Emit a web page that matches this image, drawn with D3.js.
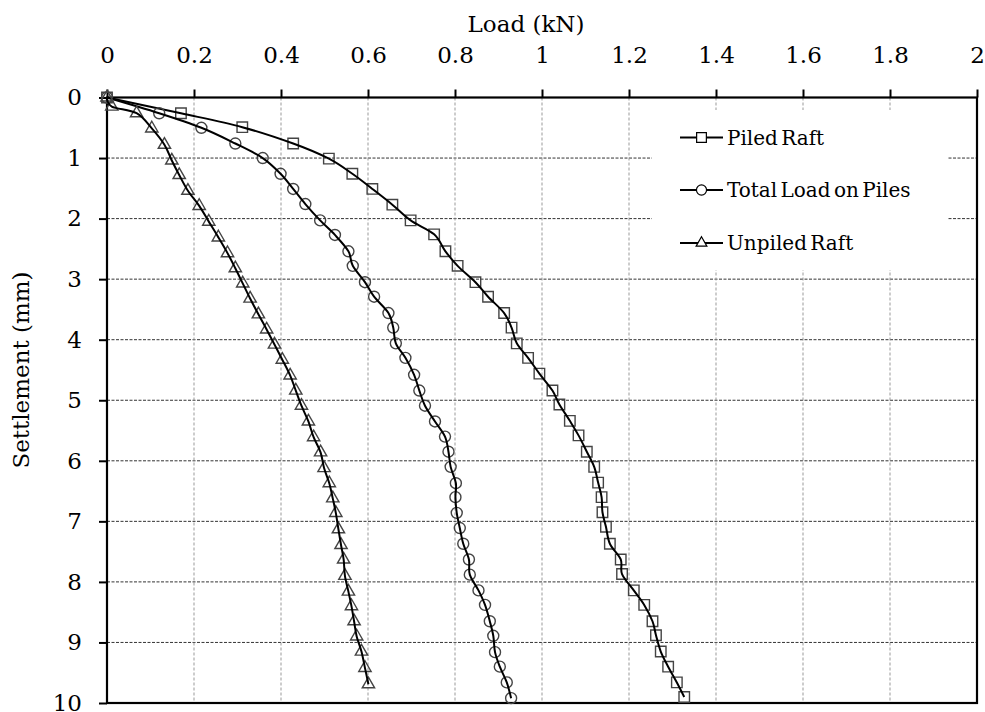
<!DOCTYPE html>
<meta charset="utf-8">
<script src="https://d3js.org/d3.v7.min.js"></script>
<style>
body { margin: 0; background: #fff; }
text { font-family: "DejaVu Serif", serif; fill: #000; }
.grid-h { stroke: #333; stroke-width: 1; stroke-dasharray: 3,1.5; }
.grid-v { stroke: #999; stroke-width: 1; stroke-dasharray: 3,2; }
.line { fill: none; stroke: #000; stroke-width: 2px; }
.mark { fill: none; stroke: #444; stroke-width: 1.4px; }
</style>
<body>
<div id="chart"></div>
<script>
// settlement (mm) and load (kN)
var piledSettle = [0, 0.26, 0.49, 0.76, 1.01, 1.26, 1.51, 1.77, 2.03, 2.26, 2.54, 2.78, 3.05, 3.29, 3.56, 3.80, 4.06, 4.30, 4.56, 4.84,
    5.07, 5.34, 5.58, 5.85, 6.10, 6.36, 6.60, 6.85, 7.09, 7.37, 7.63, 7.87, 8.14, 8.38, 8.65, 8.88, 9.15, 9.40, 9.66, 9.90];
var piledLoad = [0, 0.170, 0.311, 0.428, 0.510, 0.564, 0.610, 0.656, 0.698, 0.752, 0.778, 0.806, 0.847, 0.876, 0.913, 0.930, 0.942, 0.968, 0.994, 1.024,
    1.040, 1.064, 1.084, 1.103, 1.120, 1.129, 1.137, 1.139, 1.147, 1.156, 1.181, 1.184, 1.211, 1.235, 1.254, 1.262, 1.273, 1.290, 1.310, 1.327];

var pilesSettle = [0, 0.26, 0.50, 0.76, 1.00, 1.26, 1.51, 1.76, 2.03, 2.27, 2.54, 2.78, 3.05, 3.29, 3.56, 3.80, 4.06, 4.30, 4.58, 4.84,
    5.09, 5.35, 5.60, 5.85, 6.10, 6.37, 6.60, 6.86, 7.11, 7.37, 7.63, 7.88, 8.14, 8.38, 8.65, 8.89, 9.16, 9.40, 9.66, 9.92];
var pilesLoad = [0, 0.120, 0.217, 0.295, 0.358, 0.399, 0.428, 0.456, 0.490, 0.524, 0.555, 0.565, 0.593, 0.614, 0.647, 0.658, 0.664, 0.686, 0.706, 0.718,
    0.731, 0.754, 0.777, 0.785, 0.790, 0.802, 0.801, 0.804, 0.811, 0.819, 0.832, 0.834, 0.854, 0.869, 0.880, 0.888, 0.892, 0.903, 0.919, 0.929];

var unpiledSettle = [0, 0.15, 0.26, 0.51, 0.78, 1.04, 1.28, 1.54, 1.79, 2.05, 2.31, 2.57, 2.82, 3.07, 3.32, 3.58, 3.83, 4.08, 4.33, 4.59,
    4.84, 5.09, 5.35, 5.61, 5.86, 6.12, 6.37, 6.62, 6.86, 7.13, 7.39, 7.63, 7.90, 8.16, 8.40, 8.65, 8.90, 9.15, 9.42, 9.69];
var unpiledLoad = [0, 0.011, 0.068, 0.103, 0.132, 0.149, 0.166, 0.186, 0.212, 0.234, 0.256, 0.277, 0.295, 0.312, 0.329, 0.348, 0.367, 0.385, 0.403, 0.421,
    0.434, 0.447, 0.463, 0.475, 0.491, 0.499, 0.511, 0.519, 0.526, 0.532, 0.538, 0.544, 0.547, 0.555, 0.562, 0.568, 0.574, 0.585, 0.593, 0.601];

var seriesNames = ['Piled Raft', 'Total Load on Piles', 'Unpiled Raft'];
var seriesSymbols = [d3.symbolSquare, d3.symbolCircle, d3.symbolTriangle];
var xTicks = [0, 0.2, 0.4, 0.6, 0.8, 1, 1.2, 1.4, 1.6, 1.8, 2];
var yTicks = [0, 1, 2, 3, 4, 5, 6, 7, 8, 9, 10];

var series = [
    {name: seriesNames[0], symbol: seriesSymbols[0], settle: piledSettle, load: piledLoad},
    {name: seriesNames[1], symbol: seriesSymbols[1], settle: pilesSettle, load: pilesLoad},
    {name: seriesNames[2], symbol: seriesSymbols[2], settle: unpiledSettle, load: unpiledLoad}
];

var width = 985, height = 712;
var margin = {top: 97.5, right: 8, bottom: 9, left: 107};

var svg = d3.select('#chart')
    .append('svg')
    .attr('width', width)
    .attr('height', height);

var xscale = d3.scaleLinear()
    .domain([0, 2])
    .range([margin.left, width - margin.right]);

var yscale = d3.scaleLinear()
    .domain([0, 10])
    .range([margin.top, height - margin.bottom]);

// grid lines
svg.append('g').selectAll('line')
    .data(yTicks.slice(1, -1))
    .enter().append('line')
    .attr('class', 'grid-h')
    .attr('x1', xscale(0)).attr('x2', xscale(2))
    .attr('y1', function(d) { return yscale(d); })
    .attr('y2', function(d) { return yscale(d); });

svg.append('g').selectAll('line')
    .data(xTicks.slice(1, -1))
    .enter().append('line')
    .attr('class', 'grid-v')
    .attr('y1', yscale(0)).attr('y2', yscale(10))
    .attr('x1', function(d) { return xscale(d); })
    .attr('x2', function(d) { return xscale(d); });

// legend background hides the grid behind it
svg.append('rect')
    .attr('x', 652).attr('y', 110)
    .attr('width', 296).attr('height', 160)
    .attr('fill', '#fff');

// axes
var xaxis = d3.axisTop(xscale)
    .tickValues(xTicks)
    .tickSize(8)
    .tickPadding(27)
    .tickFormat(function(d) { return d3.format('')(d); });

svg.append('g')
    .attr('transform', 'translate(0,' + margin.top + ')')
    .call(xaxis)
    .call(function(g) {
        g.select('.domain').remove();
        g.selectAll('line').attr('stroke', '#000').attr('stroke-width', 2);
        g.selectAll('text').style('font-size', '23px').attr('fill', '#000');
    });

var yaxis = d3.axisLeft(yscale)
    .tickValues(yTicks)
    .tickSize(8)
    .tickPadding(17);

svg.append('g')
    .attr('transform', 'translate(' + margin.left + ',0)')
    .call(yaxis)
    .call(function(g) {
        g.select('.domain').remove();
        g.selectAll('line').attr('stroke', '#000').attr('stroke-width', 2);
        g.selectAll('text').style('font-size', '23px').attr('fill', '#000');
    });

// plot frame
svg.append('rect')
    .attr('x', xscale(0)).attr('y', yscale(0))
    .attr('width', xscale(2) - xscale(0))
    .attr('height', yscale(10) - yscale(0))
    .attr('fill', 'none')
    .attr('stroke', '#000')
    .attr('stroke-width', 2.2);

// axis titles
svg.append('text')
    .text('Load (kN)')
    .attr('text-anchor', 'middle')
    .attr('x', 526)
    .attr('y', 32)
    .style('font-size', '23px');

svg.append('text')
    .text('Settlement (mm)')
    .attr('text-anchor', 'middle')
    .attr('transform', 'translate(29,370) rotate(-90)')
    .style('font-size', '23px');

// curves and markers
var line = d3.line()
    .x(function(d) { return xscale(d[0]); })
    .y(function(d) { return yscale(d[1]); })
    .curve(d3.curveCatmullRom.alpha(0));

series.forEach(function(s) {
    var pts = s.load.map(function(v, i) { return [v, s.settle[i]]; });
    var sym = d3.symbol().type(s.symbol).size(s.symbol === d3.symbolTriangle ? 66 : (s.symbol === d3.symbolCircle ? 95 : 110));

    svg.append('g').selectAll('path')
        .data(pts)
        .enter().append('path')
        .attr('class', 'mark')
        .attr('d', sym)
        .attr('transform', function(d) { return 'translate(' + xscale(d[0]) + ',' + yscale(d[1]) + ')'; });

    svg.append('path')
        .datum(pts)
        .attr('class', 'line')
        .attr('d', line);
});

// legend
var legendY = [137.5, 190, 243];
var legend = svg.selectAll('.legend')
    .data(series)
    .enter().append('g')
    .attr('class', 'legend')
    .attr('transform', function(d, i) { return 'translate(680,' + legendY[i] + ')'; });

legend.append('line')
    .attr('x1', 0).attr('x2', 43)
    .attr('stroke', '#000').attr('stroke-width', 2);

legend.append('path')
    .attr('d', function(d) {
        return d3.symbol().type(d.symbol).size(d.symbol === d3.symbolTriangle ? 50 : (d.symbol === d3.symbolCircle ? 80 : 95))();
    })
    .attr('transform', 'translate(21.5,0)')
    .attr('fill', '#fff')
    .attr('stroke', '#000')
    .attr('stroke-width', 1.2);

legend.append('text')
    .attr('x', 47)
    .attr('y', 7)
    .style('font-size', '20px')
    .style('word-spacing', '-3px')
    .text(function(d) { return d.name; });
</script>
</body>
